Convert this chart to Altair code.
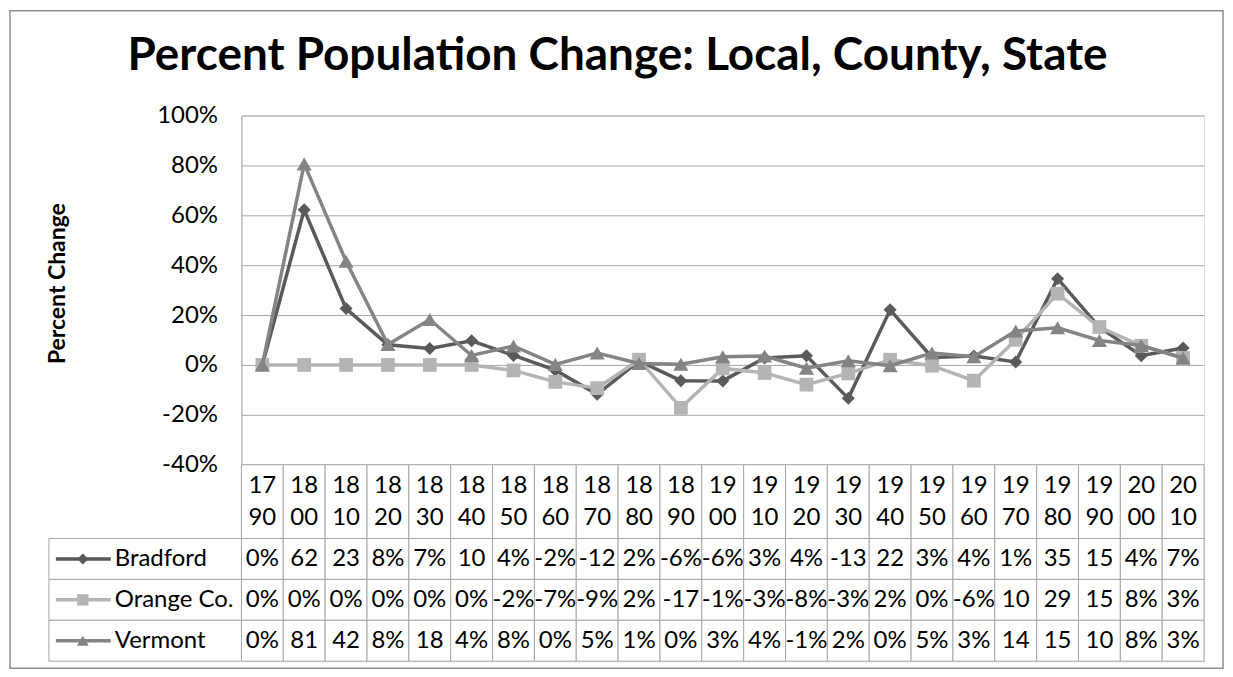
import altair as alt
import pandas as pd

# ---------------- data ----------------
years = ["1790", "1800", "1810", "1820", "1830", "1840", "1850", "1860", "1870",
         "1880", "1890", "1900", "1910", "1920", "1930", "1940", "1950", "1960",
         "1970", "1980", "1990", "2000", "2010"]
bradford = [0, 62.2, 22.6, 8.1, 6.6, 9.7, 3.8, -2.1, -11.8, 1.6, -6.3, -6.4, 2.8,
            3.7, -13.4, 22.1, 3.0, 3.6, 1.2, 34.6, 15.1, 3.7, 6.8]
orange = [0, 0, 0, 0, 0, 0, -2.2, -6.8, -9.3, 2.1, -17.2, -1.4, -3.2, -7.9, -3.4,
          2.1, -0.3, -6.3, 10.1, 28.6, 15.2, 7.7, 2.8]
vermont = [0, 80.6, 41.6, 8.2, 18.2, 3.8, 7.6, 0.2, 4.8, 0.6, 0.3, 3.3, 3.6, -1.3,
           1.7, -0.3, 4.8, 3.3, 13.6, 14.9, 9.8, 7.8, 2.8]
series_names = ["Bradford", "Orange Co.", "Vermont"]
series_values = [bradford, orange, vermont]
y_ticks = [-0.4, -0.2, 0, 0.2, 0.4, 0.6, 0.8, 1.0]
TITLE = "Percent Population Change: Local, County, State"
Y_TITLE = "Percent Change"

# ---------------- style ----------------
series_colors = ["#5a5a5a", "#b4b4b4", "#848484"]
series_shapes = ["diamond", "square", "triangle-up"]
marker_sizes = [170, 190, 230]
legend_sizes = [120, 140, 170]
FONT = "Lato"
GRID = "#a6a6a6"
BORDER = "#8e8e8e"
TXT = "#000000"
PLOT_W, PLOT_H = 965, 350
HEAD_H, ROW_H = 74, 41
LINE_H = 32

rows = []
for name, vals in zip(series_names, series_values):
    for yr, v in zip(years, vals):
        r = round(v)
        lab = f"{r}%" if abs(r) < 10 else f"{r}"
        rows.append({"year": yr, "series": name, "value": v / 100.0, "label": lab})
df = pd.DataFrame(rows)

# ---------------- main line plot ----------------
x_point = alt.X("year:N", sort=years,
                scale=alt.Scale(type="point", padding=0.5), axis=None)
y_main = alt.Y(
    "value:Q",
    scale=alt.Scale(domain=[-0.4, 1.0], nice=False, zero=False),
    axis=alt.Axis(
        values=y_ticks,
        labelExpr="(datum.value < -0.0001 ? '-' : '') + format(abs(datum.value), '.0%')",
        grid=True, gridColor=GRID, gridWidth=1,
        domainColor=GRID, domainWidth=1,
        ticks=False, labelPadding=24,
        labelFont=FONT, labelFontSize=24, labelColor=TXT,
        title=Y_TITLE, titleFont=FONT, titleFontSize=23, titleFontWeight="bold",
        titleColor=TXT, titleAngle=270, titleX=-184, titleY=168,
        titleAlign="center", titleBaseline="middle",
    ),
)

one = pd.DataFrame({"t": [TITLE]})
border = alt.Chart(one).mark_rect(
    fill="transparent", stroke=BORDER, strokeWidth=1.5
).encode(x=alt.value(-232), x2=alt.value(984), y=alt.value(-105), y2=alt.value(554))
title_layer = alt.Chart(one).mark_text(
    font=FONT, fontSize=46, fontWeight="bold", color=TXT,
    align="center", baseline="middle"
).encode(x=alt.value(377), y=alt.value(-60), text="t:N")

layers = [border, title_layer]
for name, color, shape, size in zip(series_names, series_colors, series_shapes, marker_sizes):
    d = df[df["series"] == name]
    base = alt.Chart(d).encode(x=x_point, y=y_main)
    layers.append(base.mark_line(color=color, strokeWidth=3.5))
    layers.append(base.mark_point(shape=shape, filled=True, size=size,
                                  color=color, opacity=1))
main = alt.layer(*layers).properties(width=PLOT_W, height=PLOT_H)

# ---------------- header (years) ----------------
x_band = alt.X("year:N", sort=years,
               scale=alt.Scale(type="band", paddingInner=0, paddingOuter=0), axis=None)
hdr_df = pd.DataFrame({"year": years, "label": [y[:2] + "\n" + y[2:] for y in years]})
header = alt.layer(
    alt.Chart(hdr_df).mark_rect(fill="white", stroke=GRID, strokeWidth=1).encode(x=x_band),
    alt.Chart(hdr_df).mark_text(font=FONT, fontSize=24, color=TXT, lineBreak="\n",
                                lineHeight=LINE_H, dy=-LINE_H / 2,
                                align="center", baseline="middle"
                                ).encode(x=x_band, text="label:N"),
).properties(width=PLOT_W, height=HEAD_H)

# ---------------- data table ----------------
y_band = alt.Y("series:N", sort=series_names,
               scale=alt.Scale(type="band", domain=series_names, paddingInner=0, paddingOuter=0),
               axis=None)
y_mid = alt.Y("series:N", sort=series_names, bandPosition=0.5,
              scale=alt.Scale(type="band", domain=series_names, paddingInner=0, paddingOuter=0),
              axis=None)
leg_df = pd.DataFrame({"series": series_names})
color_enc = alt.Color("series:N", scale=alt.Scale(domain=series_names, range=series_colors),
                      legend=None)
shape_enc = alt.Shape("series:N", scale=alt.Scale(domain=series_names, range=series_shapes),
                      legend=None)
size_enc = alt.Size("series:N", scale=alt.Scale(domain=series_names, range=legend_sizes),
                    legend=None)

cells = alt.Chart(df).mark_rect(fill="white", stroke=GRID, strokeWidth=1).encode(x=x_band, y=y_band)
cell_txt = alt.Chart(df).mark_text(font=FONT, fontSize=24, color=TXT, align="center",
                                   baseline="middle").encode(x=x_band, y=y_mid, text="label:N")
leg_rect = alt.Chart(leg_df).mark_rect(fill="white", stroke=GRID, strokeWidth=1).encode(
    x=alt.value(-193), x2=alt.value(0), y=y_band)
leg_line = alt.Chart(leg_df).mark_rule(strokeWidth=3.5).encode(
    x=alt.value(-186), x2=alt.value(-131), y=y_mid, color=color_enc)
leg_pt = alt.Chart(leg_df).mark_point(filled=True, opacity=1).encode(
    x=alt.value(-159), y=y_mid, color=color_enc, shape=shape_enc, size=size_enc)
leg_txt = alt.Chart(leg_df).mark_text(font=FONT, fontSize=24, color=TXT, align="left",
                                      baseline="middle").encode(
    x=alt.value(-127), y=y_mid, text="series:N")

table = alt.layer(cells, cell_txt, leg_rect, leg_line, leg_pt, leg_txt).properties(
    width=PLOT_W, height=ROW_H * len(series_names))

chart = alt.vconcat(main, header, table, spacing=0, bounds="flush", padding=0).resolve_scale(
    x="independent", y="independent"
).configure_view(stroke=None).configure(background="white")

chart.save("out.html", embed_options={"renderer": "svg", "actions": False})
